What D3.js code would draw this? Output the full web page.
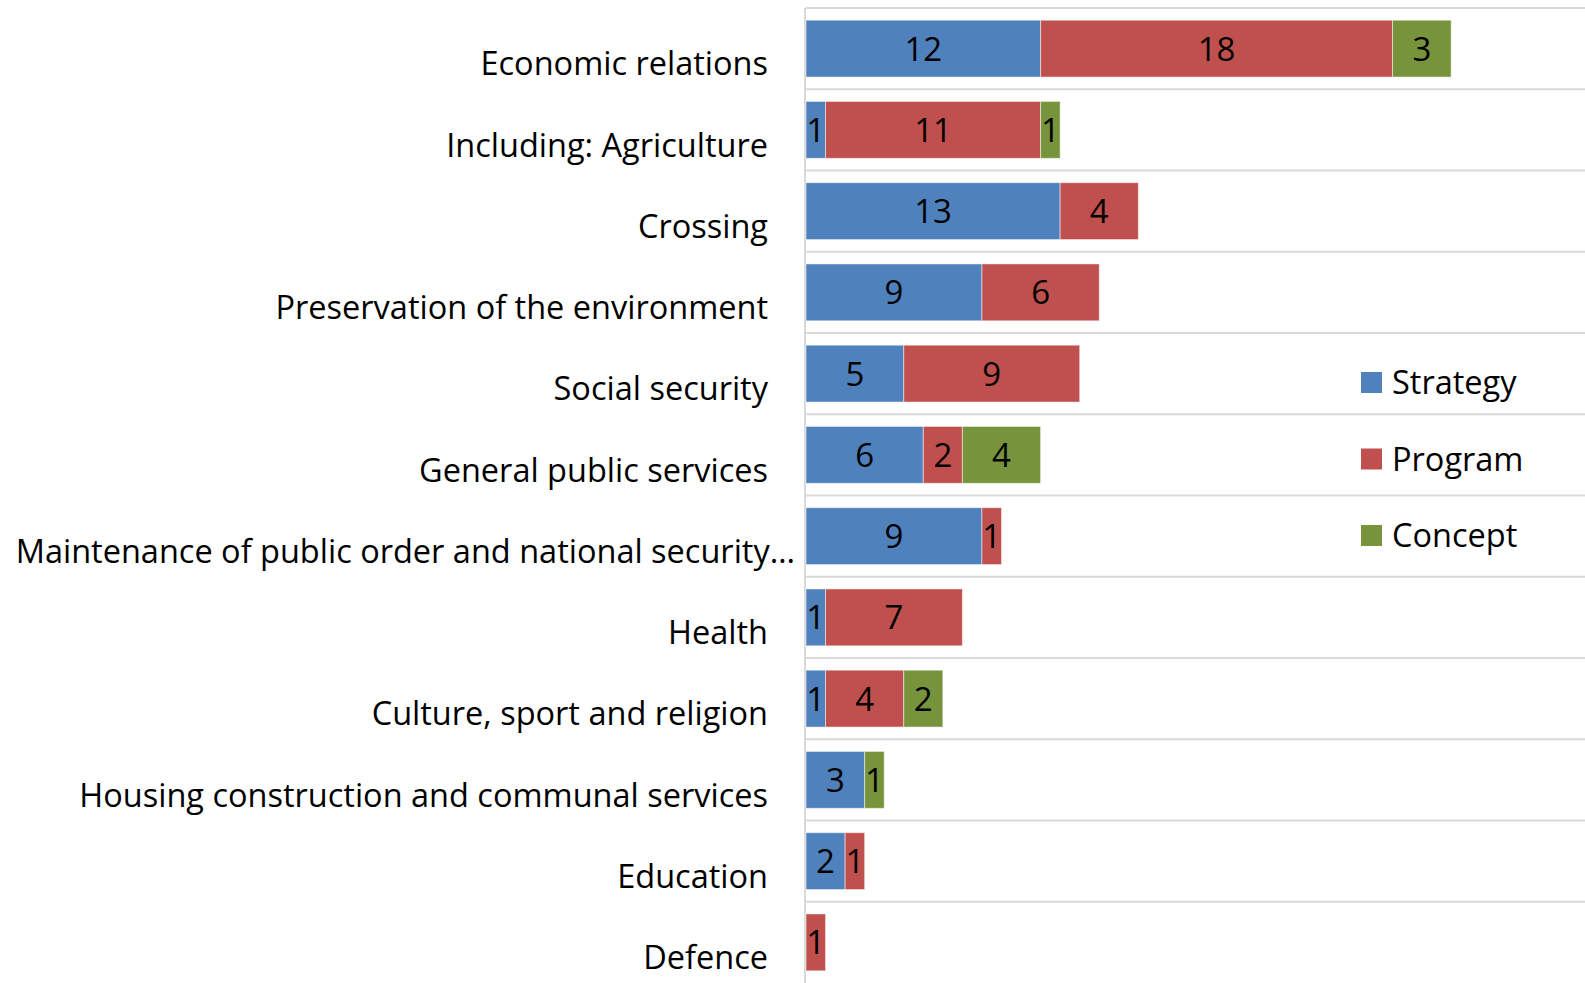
<!DOCTYPE html>
<html>
<head>
<meta charset="utf-8">
<script src="https://cdn.jsdelivr.net/npm/d3@7"></script>
<style>
  body { margin: 0; background: #fff; }
  svg text { font-family: "Open Sans", Lato, sans-serif; fill: #000; }
</style>
</head>
<body>
<div id="chart"></div>
<script>
// categories, top to bottom
var categories = [
  "Economic relations",
  "Including: Agriculture",
  "Crossing",
  "Preservation of the environment",
  "Social security",
  "General public services",
  "Maintenance of public order and national security…",
  "Health",
  "Culture, sport and religion",
  "Housing construction and communal services",
  "Education",
  "Defence"
];

var seriesNames = ["Strategy", "Program", "Concept"];
var strategy = [12, 1, 13, 9, 5, 6, 9, 1, 1, 3, 2, 0];
var program  = [18, 11, 4, 6, 9, 2, 1, 7, 4, 0, 1, 1];
var concept  = [3, 1, 0, 0, 0, 4, 0, 0, 2, 1, 0, 0];
var colors = ["#4f81bd", "#c0504d", "#77933c"];

var width = 1585, height = 983;

var rows = categories.map(function(c, i) {
  return { cat: c, Strategy: strategy[i], Program: program[i], Concept: concept[i] };
});

var svg = d3.select("#chart").append("svg")
    .attr("width", width)
    .attr("height", height);

var x = d3.scaleLinear().domain([0, 40]).range([806, 1588]);
var y = d3.scaleBand().domain(categories).range([8, 983]).paddingInner(0.3).paddingOuter(0.15);

// band boundaries (gridlines)
var bounds = d3.range(categories.length).map(function(i) { return 8 + i * (975 / categories.length); });

svg.append("g").selectAll("line")
    .data(bounds)
  .enter().append("line")
    .attr("x1", x(0)).attr("x2", width)
    .attr("y1", function(d) { return d; }).attr("y2", function(d) { return d; })
    .attr("stroke", "#d9d9d9")
    .attr("stroke-width", 2);

// axis line
svg.append("line")
    .attr("x1", x(0) - 1).attr("x2", x(0) - 1)
    .attr("y1", 8).attr("y2", height)
    .attr("stroke", "#d9d9d9")
    .attr("stroke-width", 2);

var stack = d3.stack().keys(seriesNames);
var layers = stack(rows);

var layer = svg.append("g").selectAll("g")
    .data(layers)
  .enter().append("g")
    .attr("fill", function(d, i) { return colors[i]; });

layer.selectAll("rect")
    .data(function(d) { return d.filter(function(s) { return s[1] - s[0] > 0; }); })
  .enter().append("rect")
    .attr("x", function(d) { return x(d[0]); })
    .attr("y", function(d) { return y(d.data.cat); })
    .attr("width", function(d) { return x(d[1]) - x(d[0]); })
    .attr("height", y.bandwidth())
    .attr("stroke", "rgba(255,255,255,0.5)")
    .attr("stroke-width", 1);

// value labels
layer.selectAll("text")
    .data(function(d) { return d.filter(function(s) { return s[1] - s[0] > 0; }); })
  .enter().append("text")
    .attr("x", function(d) { return (x(d[0]) + x(d[1])) / 2; })
    .attr("y", function(d) { return y(d.data.cat) + y.bandwidth() / 2; })
    .attr("dy", "0.36em")
    .attr("text-anchor", "middle")
    .style("font-size", "33px")
    .text(function(d) { return d[1] - d[0]; });

// category labels (sit a bit below the bar centre, like Excel)
svg.append("g").selectAll("text")
    .data(categories)
  .enter().append("text")
    .attr("x", function(d) { return d.slice(-1) === "…" ? 795 : 768; })
    .attr("y", function(d) { return y(d) + y.bandwidth() / 2 + 15; })
    .attr("dy", "0.36em")
    .attr("text-anchor", "end")
    .style("font-size", "32.5px")
    .text(function(d) { return d; });

// legend
var legend = svg.append("g").selectAll("g")
    .data(seriesNames)
  .enter().append("g")
    .attr("transform", function(d, i) { return "translate(1361," + (382.5 + i * 76.5) + ")"; });

legend.append("rect")
    .attr("x", 0).attr("y", -10.5)
    .attr("width", 21).attr("height", 21)
    .attr("fill", function(d, i) { return colors[i]; });

legend.append("text")
    .attr("x", 31)
    .attr("dy", "0.36em")
    .style("font-size", "32.5px")
    .text(function(d) { return d; });
</script>
</body>
</html>
